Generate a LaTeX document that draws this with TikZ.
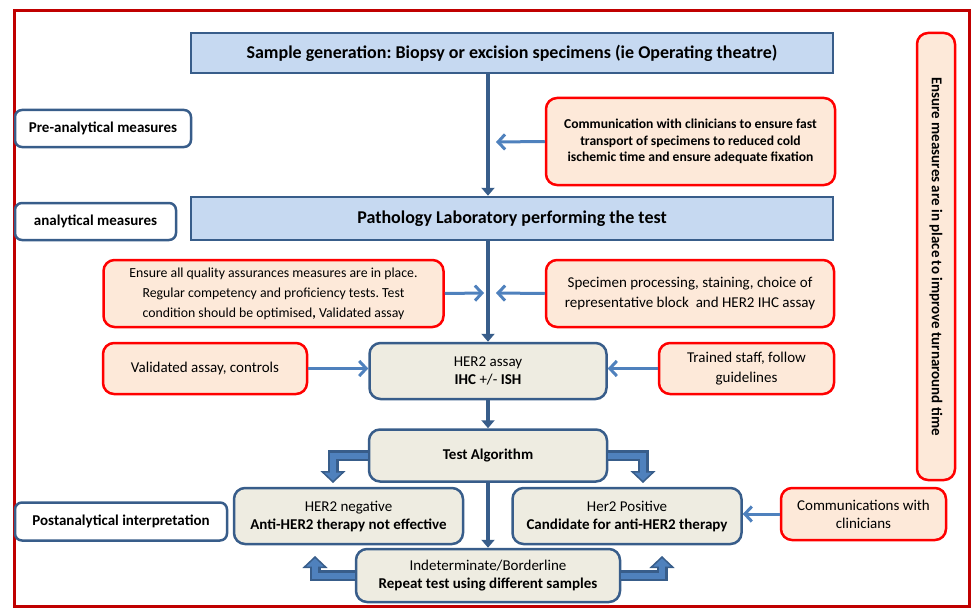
\documentclass[tikz,border=0pt]{standalone}
\usepackage{fontspec}
\setmainfont{Carlito}
\usetikzlibrary{arrows.meta}
\frenchspacing
\definecolor{boxblue}{HTML}{C6D9F1}
\definecolor{edgeblue}{HTML}{385D8A}
\definecolor{armblue}{HTML}{4F81BD}
\definecolor{peach}{HTML}{FDE9D9}
\definecolor{stone}{HTML}{EEECE1}
\definecolor{framered}{HTML}{C00000}
\newcommand{\stagefont}{\fontsize{18}{21}\selectfont\bfseries}
\newcommand{\bodyfont}{\fontsize{15}{18}\selectfont}
\tikzset{stage/.style={draw=edgeblue, fill=boxblue, line width=2.5pt, inner sep=0pt, font=\stagefont}}
\tikzset{phase/.style={draw=edgeblue, fill=white, rounded corners=7pt, line width=2.5pt, inner sep=0pt, font=\bodyfont\bfseries}}
\tikzset{advice/.style={draw=red, fill=peach, rounded corners=11pt, line width=2.5pt, inner sep=0pt, align=center, font=\bodyfont}}
\tikzset{result/.style={draw=edgeblue, fill=stone, rounded corners=11pt, line width=2.5pt, inner sep=0pt, align=center, font=\bodyfont}}
\tikzset{mainline/.style={draw=edgeblue, line width=4pt, -{Triangle[width=13pt,length=8pt]}}}
\tikzset{feed/.style={draw=armblue, line width=3pt, -{Straight Barb[width=15pt,length=7pt,line width=3pt]}}}
\tikzset{bendarrow/.style={draw=edgeblue, line width=11pt, line join=miter,
      -{Triangle[width=25pt,length=12pt,line width=1.5pt,fill=armblue]},
      postaction={draw=armblue, line width=6pt, -, shorten >=10pt}}}

\begin{document}
\begin{tikzpicture}[x=1pt,y=-1pt]
		\useasboundingbox (0,0) rectangle (976,607);
		\draw[framered, line width=3pt] (14,11) rectangle (969,606);
		% stages
		\node[stage, minimum width=642, minimum height=40] (sample) at (512,53) {Sample generation: Biopsy or excision specimens (ie Operating theatre)};
		\node[stage, minimum width=642, minimum height=43] (lab) at (512,218.5) {Pathology Laboratory performing the test};
		\node[phase, minimum width=176, minimum height=37] (pre) at (103,128.5) {Pre-analytical measures};
		\node[phase, minimum width=161, minimum height=37] (ana) at (95.5,221.5) {analytical measures};
		\node[phase, minimum width=212, minimum height=38] (post) at (121,521.5) {Postanalytical interpretation};
		% advice boxes
		\node[advice, minimum width=289, minimum height=87, font=\fontsize{13.6}{16.5}\selectfont\bfseries] (comm) at (690.5,141.5) {Communication with clinicians to ensure fast\\transport of specimens to reduced cold\\ischemic time and ensure adequate fixation};
		\node[advice, minimum width=340, minimum height=67, font=\fontsize{13.8}{20}\selectfont] (qa) at (273.5,293.5) {Ensure all quality assurances measures are in place.\\Regular competency and proficiency tests. Test\\condition should be optimised\textbf{,} Validated assay};
		\node[advice, minimum width=288, minimum height=67, font=\fontsize{15}{20}\selectfont] (spec) at (690,293.5) {Specimen processing, staining, choice of\\representative block~ and HER2 IHC assay};
		\node[advice, minimum width=204, minimum height=51] (valid) at (205,368.5) {Validated assay, controls};
		\node[advice, minimum width=175, minimum height=51, font=\fontsize{15}{20}\selectfont] (staff) at (746.5,368.5) {Trained staff, follow\\guidelines};
		\node[advice, minimum width=165, minimum height=52] (clin) at (863.5,514) {Communications with\\clinicians};
		\node[advice, minimum width=447, minimum height=38, rotate=-90, font=\bodyfont\bfseries] (turn) at (936,256.5) {Ensure measures are in place to improve turnaround time};
		% results
		\node[result, minimum width=237, minimum height=56] (assay) at (488,371) {HER2 assay\\\textbf{IHC} +/- \textbf{ISH}};
		\node[result, minimum width=238, minimum height=52, font=\bodyfont\bfseries] (algo) at (488,455.5) {Test Algorithm};
		\node[result, minimum width=229, minimum height=56] (neg) at (348.5,516) {HER2 negative\\\textbf{Anti-HER2 therapy not effective}};
		\node[result, minimum width=229, minimum height=56] (pos) at (627,516) {Her2 Positive\\\textbf{Candidate for anti-HER2 therapy}};
		\node[result, minimum width=264, minimum height=53] (indet) at (488,575.5) {Indeterminate/Borderline\\\textbf{Repeat test using different samples}};
		% connectors
		\coordinate (c1) at (496,142);
		\coordinate (c2) at (484,293);
		\coordinate (c3) at (496,293);
		\coordinate (tipL) at (333,483);
		\coordinate (tipR) at (643,483);
		\coordinate (tipBL) at (315,556);
		\coordinate (tipBR) at (662,556);
		\draw[mainline] (sample.south -| assay) -- (lab.north -| assay);
		\draw[mainline] (lab.south -| assay) -- (assay.north);
		\draw[mainline] (assay.south) -- (algo.north);
		\draw[mainline] (algo.south) -- (indet.north);
		\draw[feed] (comm.west) -- (c1);
		\draw[feed] (qa.east) -- (c2);
		\draw[feed] (spec.west) -- (c3);
		\draw[feed] (valid.east) -- (assay.west |- valid.east);
		\draw[feed] (staff.west) -- (assay.east |- staff.west);
		\draw[feed] (clin.west) -- (pos.east |- clin.west);
		\draw[bendarrow] (algo.west) -| (tipL);
		\draw[bendarrow] (algo.east) -| (tipR);
		\draw[bendarrow] (indet.west) -| (tipBL);
		\draw[bendarrow] (indet.east) -| (tipBR);
\end{tikzpicture}
\end{document}
